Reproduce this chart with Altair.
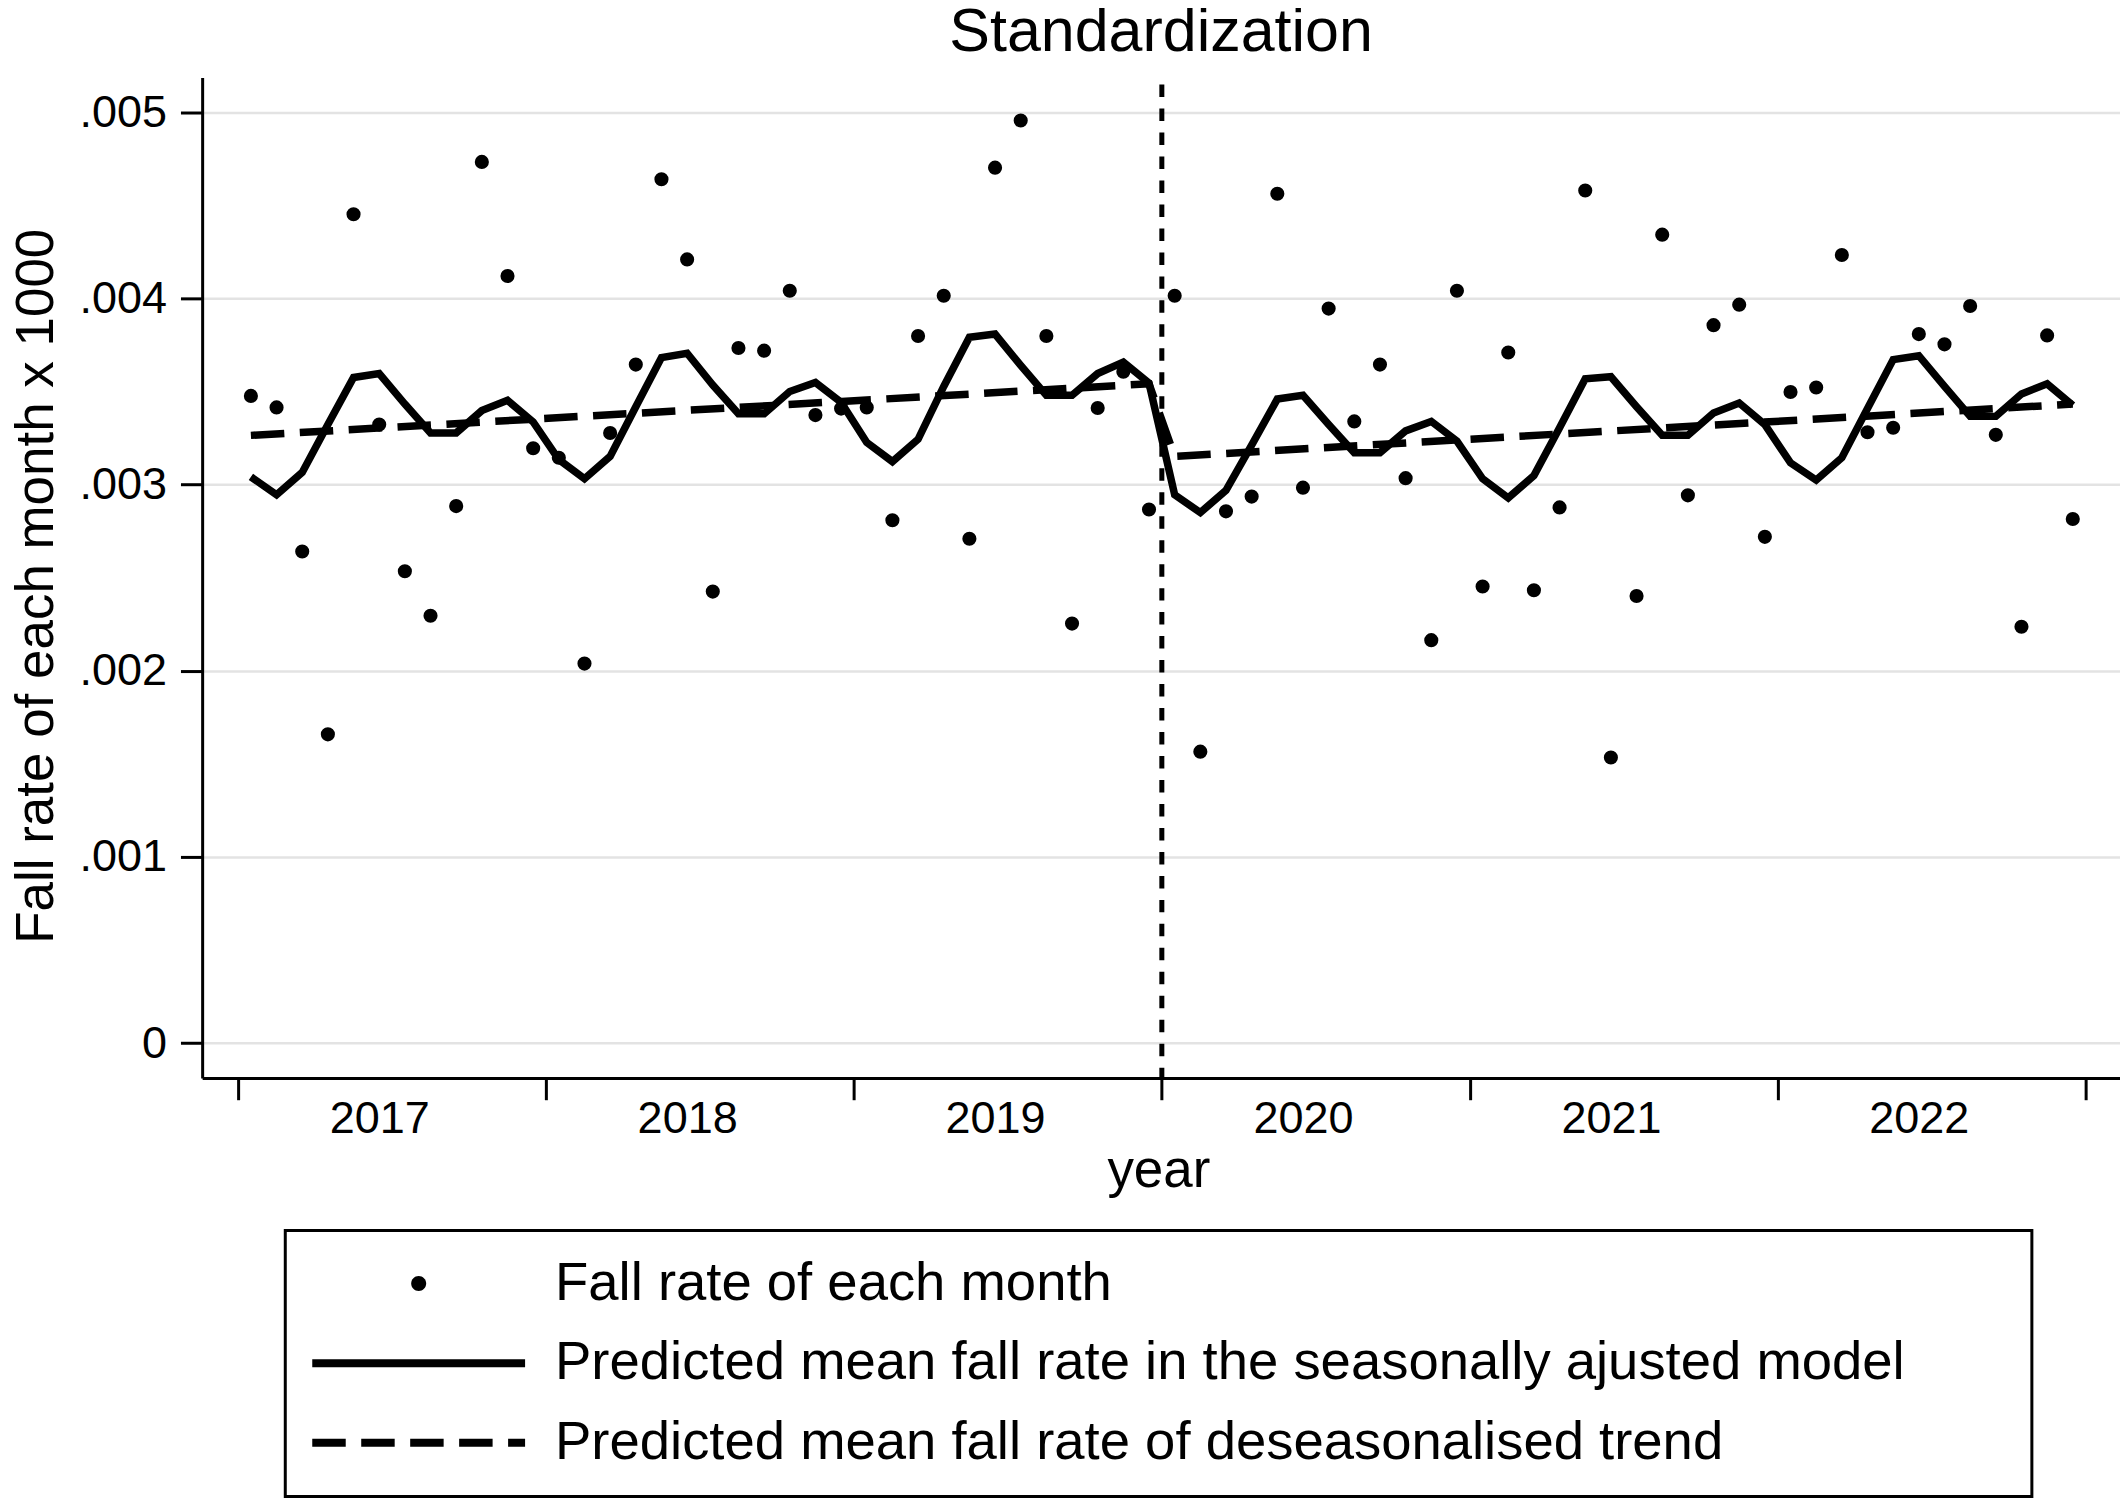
import altair as alt
import pandas as pd

# ---------------- data (in units of 0.001) ----------------
month = list(range(1, 73))

observed = [3.476, 3.414, 2.640, 1.658, 4.452, 3.322, 2.534, 2.295, 2.884, 4.733, 4.120, 3.195,
            3.144, 2.038, 3.277, 3.644, 4.640, 4.209, 2.425, 3.733, 3.719, 4.041, 3.373, 3.408,
            3.414, 2.808, 3.798, 4.014, 2.709, 4.702, 4.955, 3.798, 2.253, 3.411, 3.606, 2.866,
            4.014, 1.565, 2.856, 2.935, 4.562, 2.983, 3.945, 3.339, 3.644, 3.034, 2.164, 4.041,
            2.452, 3.709, 2.432, 2.877, 4.579, 1.534, 2.401, 4.342, 2.942, 3.856, 3.966, 2.719,
            3.497, 3.521, 4.233, 3.281, 3.305, 3.808, 3.753, 3.959, 3.267, 2.236, 3.801, 2.815]

predicted = [3.041, 2.945, 3.065, 3.322, 3.575, 3.596, 3.432, 3.277, 3.277, 3.397, 3.452, 3.336,
             3.134, 3.031, 3.151, 3.418, 3.682, 3.705, 3.534, 3.380, 3.380, 3.500, 3.548, 3.442,
             3.226, 3.123, 3.243, 3.527, 3.791, 3.808, 3.640, 3.479, 3.479, 3.596, 3.658, 3.545,
             2.945, 2.849, 2.969, 3.212, 3.459, 3.479, 3.322, 3.171, 3.171, 3.288, 3.339, 3.233,
             3.031, 2.928, 3.048, 3.305, 3.568, 3.579, 3.418, 3.264, 3.264, 3.384, 3.438, 3.322,
             3.116, 3.024, 3.144, 3.408, 3.671, 3.692, 3.527, 3.366, 3.366, 3.486, 3.541, 3.425]

trend_month = [1, 36, 37, 72]
trend_value = [3.264, 3.541, 3.151, 3.432]

intervention = [36.5]

year_bounds = [0.5, 12.5, 24.5, 36.5, 48.5, 60.5, 72.5]
year_label_pos = [6, 18, 30, 42, 54, 66]
y_ticks = [0, 0.001, 0.002, 0.003, 0.004, 0.005]

series = ["Fall rate of each month",
          "Predicted mean fall rate in the seasonally ajusted model",
          "Predicted mean fall rate of deseasonalised trend"]

UNIT = 0.001
df = pd.DataFrame({"month": month,
                   "observed": [v * UNIT for v in observed],
                   "predicted": [v * UNIT for v in predicted]})
tr = pd.DataFrame({"month": trend_month, "trend": [v * UNIT for v in trend_value]})
vl = pd.DataFrame({"month": intervention})
leg = pd.DataFrame({"series": series})

FONT = "Liberation Sans"
LINE_W = 7.5
DASH = [33.5, 15.5]

xscale = alt.Scale(domain=[-0.9, 73.84], nice=False, zero=False)
yscale = alt.Scale(domain=[-0.000188, 0.005186], nice=False, zero=False)

x_axis = alt.Axis(
    values=sorted(year_bounds + year_label_pos),
    labelExpr="datum.value % 12 == 6 ? toString(2017 + floor(datum.value / 12)) : ''",
    tickOpacity={"condition": {"test": "datum.value % 12 == 0.5", "value": 1}, "value": 0},
    grid=False, title="year", titleX=957, titleY=108.4, titleBaseline="alphabetic",
    labelBaseline="alphabetic", labelPadding=33.3, labelAngle=0,
    labelOverlap=False, labelFlush=False,
)
y_axis = alt.Axis(
    values=y_ticks,
    labelExpr="datum.value == 0 ? '0' : replace(format(datum.value, '.3f'), '0.', '.')",
    grid=True, gridColor="#e3e3e3", gridWidth=2.5,
    title="Fall rate of each month x 1000", titleX=-150, titleY=508.6, titleAngle=270,
    titleBaseline="alphabetic", titleAlign="center",
    labelPadding=13.9, labelBaseline="middle", labelOverlap=False, labelFlush=False,
)

points = alt.Chart(df).mark_circle(size=200, color="black", opacity=1).encode(
    x=alt.X("month:Q", scale=xscale, axis=x_axis),
    y=alt.Y("observed:Q", scale=yscale, axis=y_axis),
)
pred_line = alt.Chart(df).mark_line(color="black", strokeWidth=LINE_W, strokeJoin="miter").encode(
    x=alt.X("month:Q", scale=xscale, axis=x_axis),
    y=alt.Y("predicted:Q", scale=yscale, axis=y_axis),
)
trend_line = alt.Chart(tr).mark_line(color="black", strokeWidth=LINE_W, strokeDash=DASH).encode(
    x=alt.X("month:Q", scale=xscale, axis=x_axis),
    y=alt.Y("trend:Q", scale=yscale, axis=y_axis),
)
vrule = alt.Chart(vl).mark_rule(color="black", strokeWidth=5, strokeDash=[12.5, 11.5],
                                strokeDashOffset=17).encode(
    x=alt.X("month:Q", scale=xscale, axis=x_axis),
)

# ---- legend key glyphs (unit paths, scaled by the legend symbol size) ----
KEY_LEN = 213
SYM_SIZE = KEY_LEN ** 2
half = KEY_LEN / 2
t = 4.0 / half            # half thickness of a key line
r = 7.5 / half            # radius of the key dot


def bar(x0, x1):
    return f"M{x0:.4f},{-t:.4f}H{x1:.4f}V{t:.4f}H{x0:.4f}Z"


dot_path = f"M{r:.4f},0A{r:.4f},{r:.4f} 0 1,1 {-r:.4f},0A{r:.4f},{r:.4f} 0 1,1 {r:.4f},0Z"
solid_path = bar(-1, 1)
d, g = DASH[0] / half, DASH[1] / half
segs, x0 = [], -1.0
while x0 < 1:
    segs.append(bar(x0, min(x0 + d, 1.0)))
    x0 += d + g
dashed_path = "".join(segs)

# blank padding (kept from being trimmed) so the legend frame spans as wide as in the reference
pad_label = "datum.label + '" + "\u00a0" * 4 + "\u2800" + "'"
legend = alt.Legend(
    orient="none", legendX=83.2, legendY=1154, direction="vertical", columns=1,
    title=None, padding=26, rowPadding=24.7, labelFont=FONT, labelFontSize=54.5,
    labelColor="black", labelLimit=3000, labelOffset=30, symbolOffset=1,
    clipHeight=54, strokeColor="black", labelExpr=pad_label,
    symbolFillColor="black", symbolStrokeWidth=0, symbolSize=SYM_SIZE, symbolOpacity=1,
)
legend_layer = alt.Chart(leg).transform_filter("false").mark_point(
    filled=True, opacity=1, color="black", strokeWidth=0).encode(
    shape=alt.Shape("series:N",
                    scale=alt.Scale(domain=series, range=[dot_path, solid_path, dashed_path]),
                    legend=legend),
)

chart = alt.layer(points, pred_line, trend_line, vrule, legend_layer).properties(
    width=1919.4, height=1001.3,
    title=alt.TitleParams("Standardization", frame="group", offset=-37, baseline="alphabetic",
                          anchor="middle"),
    padding={"left": 194.3, "top": 69, "right": 0, "bottom": 420},
    autosize=alt.AutoSizeParams(type="none"),
).configure_view(strokeWidth=0).configure_axis(
    labelFont=FONT, titleFont=FONT, labelFontSize=45, titleFontSize=53,
    titleFontWeight="normal", labelColor="black", titleColor="black",
    domainColor="black", domainWidth=3, tickColor="black", tickWidth=3, tickSize=21.7,
).configure_title(
    font=FONT, fontSize=61, fontWeight="normal", color="black",
).configure_legend(
    symbolFillColor="black", strokeWidth=3,
)

chart.save("out.html", embed_options={"renderer": "svg", "actions": False})
